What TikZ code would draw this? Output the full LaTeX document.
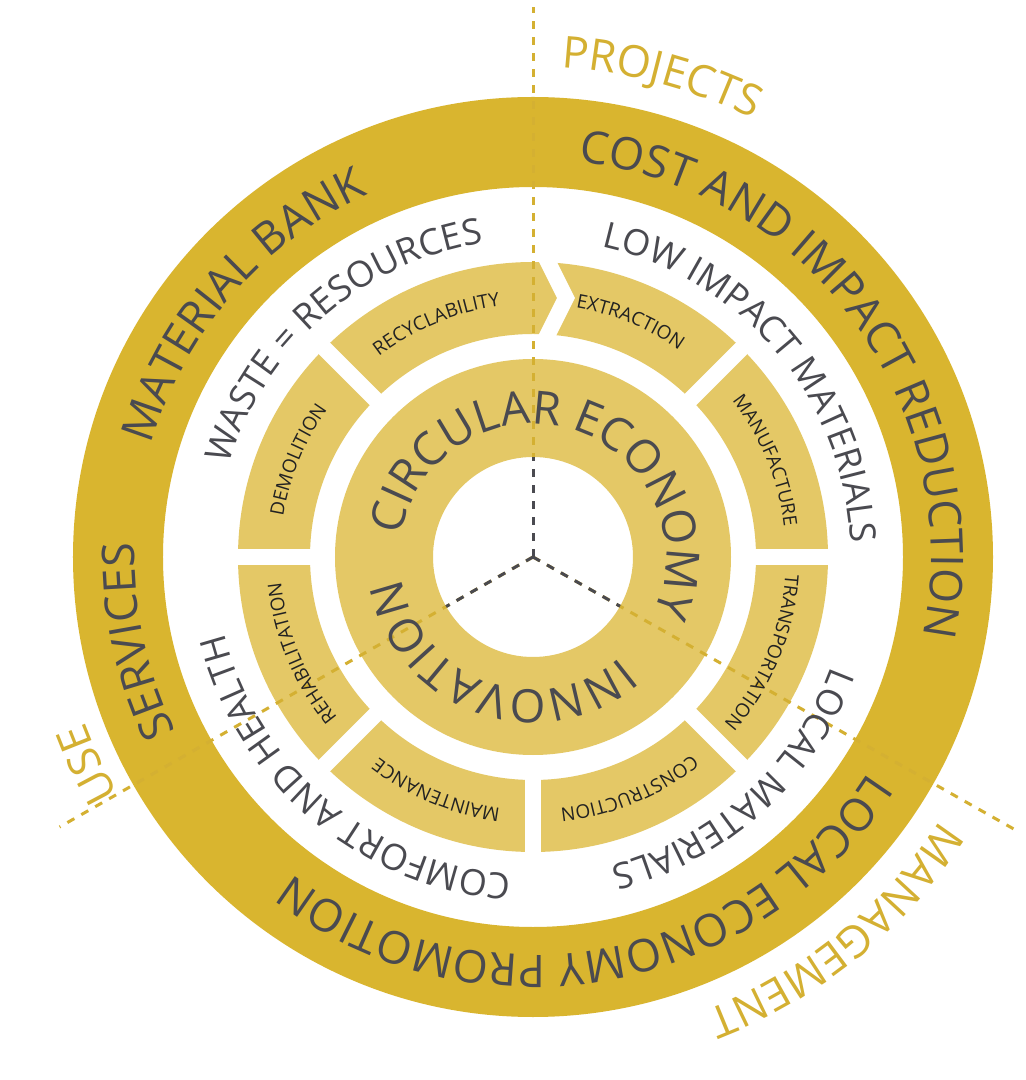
\documentclass[tikz,border=0pt]{standalone}
\usepackage{fontspec}
\setmainfont{Open Sans}
\usetikzlibrary{decorations.text}
\definecolor{ringgold}{HTML}{D9B52F}
\definecolor{seggold}{HTML}{E4C866}
\definecolor{tgray}{HTML}{4A4A50}
\definecolor{lgold}{HTML}{D4B032}
\definecolor{sblack}{HTML}{222222}
\newcommand\ArcTxt[5]{\path[decorate,decoration={text along path,text align=center,text={|#4|#5}}] ({#1+#2}:#3) arc[start angle={#1+#2}, end angle={#1-#2}, radius=#3];}
\newcommand\fRing{\fontsize{22.5}{22.5}\selectfont\color{tgray}}
\newcommand\fBand{\fontsize{18}{18}\selectfont\color{tgray}}
\newcommand\fInner{\fontsize{23}{23}\selectfont\color{tgray}}
\newcommand\fSeg{\fontsize{9.5}{9.5}\selectfont\color{sblack}}
\newcommand\fOut{\fontsize{22}{22}\selectfont\color{lgold}}
\tikzset{gapline/.style={white,line width=8},
 golddash/.style={lgold,line width=1.5,dash pattern=on 4 off 4},
 graydash/.style={tgray,line width=1.5,dash pattern=on 4 off 4}}
\begin{document}
\begin{tikzpicture}[x=0.5pt,y=0.5pt]
\useasboundingbox (-533,-523) rectangle (492,557);
\fill[white] (-533,-523) rectangle (492,557);
% outer ring
\fill[ringgold,even odd rule] (0,0) circle[radius=460] (0,0) circle[radius=370];
% segments ring
\fill[seggold,even odd rule] (0,0) circle[radius=295] (0,0) circle[radius=223];
\foreach \a in {0,45,135,180,225,270,315} \draw[gapline] (\a:215) -- (\a:305);
\draw[gapline] (10,305) -- (33,259) -- (10,213);
% inner ring
\fill[seggold,even odd rule] (0,0) circle[radius=198] (0,0) circle[radius=100];
% dashed lines
\coordinate (o) at (0,0);
\coordinate (t) at (90:550);
\coordinate (l) at (209.7:545);
\coordinate (r) at (-29.5:554);
\draw[golddash] (o) -- (t);
\draw[golddash] (o) -- (l);
\draw[golddash] (o) -- (r);
\draw[graydash] (o) -- (90:100);
\draw[graydash] (o) -- (209.7:100);
\draw[graydash] (o) -- (-29.5:100);
% outer ring texts
\ArcTxt{36}{80}{398}{\fRing}{COST AND IMPACT REDUCTION}
\ArcTxt{139}{60}{398}{\fRing}{MATERIAL BANK}
\ArcTxt{192}{40}{398}{\fRing}{SERVICES}
\ArcTxt{-80}{80}{398}{\fRing}{LOCAL ECONOMY PROMOTION}
% white band texts
\ArcTxt{131}{50}{318}{\fBand}{WASTE = RESOURCES}
\ArcTxt{40}{60}{318}{\fBand}{LOW IMPACT MATERIALS}
\ArcTxt{-48}{45}{318}{\fBand}{LOCAL MATERIALS}
\ArcTxt{230}{50}{318}{\fBand}{COMFORT AND HEALTH}
% inner ring texts
\ArcTxt{73}{100}{133}{\fInner}{CIRCULAR ECONOMY}
\ArcTxt{-110}{80}{133}{\fInner}{INNOVATION}
% segment labels
\ArcTxt{67.5}{22}{253}{\fSeg}{EXTRACTION}
\ArcTxt{22.5}{22}{253}{\fSeg}{MANUFACTURE}
\ArcTxt{-22.5}{22}{253}{\fSeg}{TRANSPORTATION}
\ArcTxt{-67.5}{22}{253}{\fSeg}{CONSTRUCTION}
\ArcTxt{-112.5}{22}{253}{\fSeg}{MAINTENANCE}
\ArcTxt{-157.5}{22}{253}{\fSeg}{REHABILITATION}
\ArcTxt{157.5}{22}{253}{\fSeg}{DEMOLITION}
\ArcTxt{112.5}{22}{253}{\fSeg}{RECYCLABILITY}
% outside labels
\ArcTxt{75}{30}{490}{\fOut}{PROJECTS}
\ArcTxt{205}{20}{478}{\fOut}{USE}
\ArcTxt{-51}{35}{485}{\fOut}{MANAGEMENT}
\end{tikzpicture}
\end{document}
